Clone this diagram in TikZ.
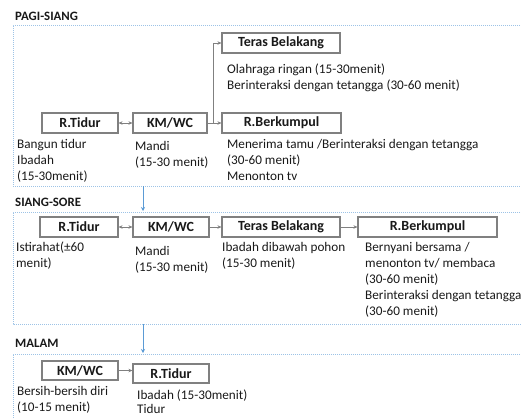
\documentclass[tikz,border=0pt]{standalone}
\usepackage{fontspec}
\setmainfont{Carlito}
\usetikzlibrary{arrows.meta}
\definecolor{framec}{RGB}{157,195,230}
\definecolor{linkc}{RGB}{91,155,213}
\definecolor{boxc}{RGB}{128,128,128}
\definecolor{txt}{RGB}{25,25,25}
\tikzset{
  box/.style={draw=boxc, line width=1.1pt, fill=white, minimum height=20pt,
    inner sep=0pt, font=\fontsize{14}{16}\selectfont\bfseries, text=txt},
  desc/.style={anchor=north west, align=left, inner sep=0pt, text=txt,
    font=\fontsize{13.2}{16}\selectfont},
  title/.style={anchor=west, inner sep=0pt, text=txt,
    font=\fontsize{12.8}{14}\selectfont\bfseries},
  frame/.style={draw=framec, line width=0.9pt, dash pattern=on 1pt off 1pt},
  flow/.style={draw=boxc, line width=0.7pt, -{Stealth[length=4pt,width=3.5pt]}},
  both/.style={draw=boxc, line width=0.7pt, {Stealth[length=4pt,width=3.5pt]}-{Stealth[length=4pt,width=3.5pt]}},
  link/.style={draw=linkc, line width=0.9pt, -{Stealth[length=4pt,width=4pt]}},
}
\begin{document}
\begin{tikzpicture}[x=1pt,y=-1pt]
\useasboundingbox (0,0) rectangle (521,418);
\clip (0,0) rectangle (521,418);

% section frames
\draw[frame] (540,25) -- (13,25) -- (13,186) -- (540,186);
\draw[frame] (540,212) -- (13,212) -- (13,324) -- (540,324);
\draw[frame] (540,354) -- (13,354) -- (13,430);

% section titles
\node[title] (h1) at (15,16) {PAGI-SIANG};
\node[title] (h2) at (15,202) {SIANG-SORE};
\node[title] (h3) at (15,343) {MALAM};

% links between sections
\coordinate (f1b) at (143,186);
\coordinate (f2t) at (143,211);
\coordinate (f2b) at (143,324);
\coordinate (f3t) at (143,353);
\draw[link] (f1b) -- (f2t);
\draw[link] (f2b) -- (f3t);

% PAGI-SIANG
\node[box, minimum width=76pt] (t1) at (80,123) {R.Tidur};
\node[box, minimum width=74pt] (k1) at (170,123) {KM/WC};
\node[box, minimum width=119pt] (b1) at (281.5,123) {R.Berkumpul};
\node[box, minimum width=118pt] (tb1) at (281,43) {Teras Belakang};
\draw[both] (t1) -- (k1);
\draw[flow] (k1) -- (b1);
\draw[flow] (k1.east) -- ++(6,0) |- (tb1.west);
\node[desc] (d1) at (17,139) {Bangun tidur\\Ibadah\\(15-30menit)};
\node[desc] (d2) at (135,141) {Mandi\\(15-30 menit)};
\node[desc] (d3) at (227,139) {Menerima tamu /Berinteraksi dengan tetangga\\(30-60 menit)\\Menonton tv};
\node[desc] (d4) at (227,64) {Olahraga ringan (15-30menit)\\Berinteraksi dengan tetangga (30-60 menit)};

% SIANG-SORE
\node[box, minimum width=78pt] (t2) at (79,227) {R.Tidur};
\node[box, minimum width=76pt] (k2) at (171,227) {KM/WC};
\node[box, minimum width=118pt] (tb2) at (281,227) {Teras Belakang};
\node[box, minimum width=139pt] (b2) at (427.5,227) {R.Berkumpul};
\draw[both] (t2) -- (k2);
\draw[flow] (k2) -- (tb2);
\draw[flow] (tb2) -- (b2);
\node[desc] (e1) at (16,242) {Istirahat(±60\\menit)};
\node[desc] (e2) at (135,246) {Mandi\\(15-30 menit)};
\node[desc] (e3) at (222,242) {Ibadah dibawah pohon\\(15-30 menit)};
\node[desc] (e4) at (365,242) {Bernyani bersama /\\menonton tv/ membaca\\(30-60 menit)\\Berinteraksi dengan tetangga\\(30-60 menit)};

% MALAM
\node[box, minimum width=76pt, minimum height=19pt] (k3) at (80,370.5) {KM/WC};
\node[box, minimum width=76pt, minimum height=19pt] (t3) at (171,373.5) {R.Tidur};
\draw[flow] (k3.east) -- (k3.east -| t3.west);
\node[desc] (g1) at (17,386) {Bersih-bersih diri\\(10-15 menit)};
\node[desc, font=\fontsize{13.2}{14}\selectfont] (g2) at (137,390) {Ibadah (15-30menit)\\Tidur};
\end{tikzpicture}
\end{document}
